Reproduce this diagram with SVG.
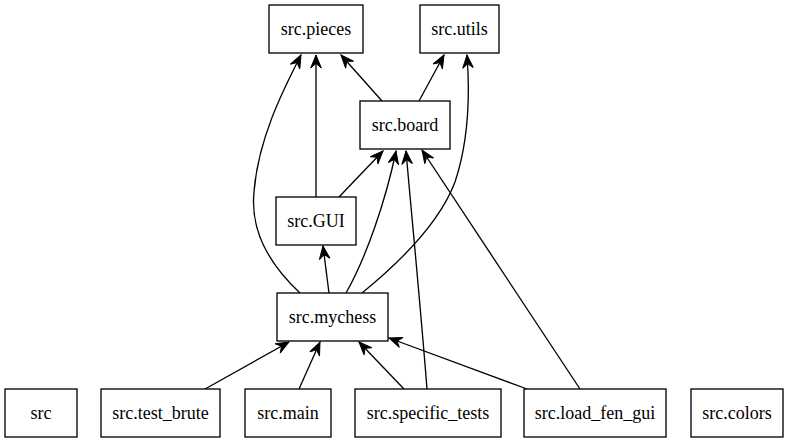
<svg xmlns="http://www.w3.org/2000/svg" width="789" height="443" viewBox="0 0 789 443">
<defs>
<style>
.n rect{fill:#fff;stroke:#000;stroke-width:1.33}
.n text{font-family:'Liberation Serif','Times New Roman','DejaVu Serif',serif;font-size:18px;text-anchor:middle;fill:#000}
.e path{fill:none;stroke:#000;stroke-width:1.33;marker-end:url(#vee)}
</style>
<marker id="vee" markerUnits="userSpaceOnUse" viewBox="-14 -6 15 12" refX="0" refY="0" markerWidth="15" markerHeight="12" orient="auto">
<path d="M0,0 L-13,-5.3 L-8.5,0 L-13,5.3 Z" fill="#000" stroke="#000" stroke-width="1"/>
</marker>
</defs>
<rect width="789" height="443" fill="#fff"/>
<g id="edges" class="e">
<path d="M382,101 L341,55"/>
<path d="M419,101 L444,55"/>
<path d="M316,197 L316,55"/>
<path d="M300,293 C 270,265 250,232 254,192 C 258,140 282,92 301,55"/>
<path d="M362,293 C 400,262 440,222 455,182 C 469,140 470,95 467,55"/>
<path d="M339,197 L383,151"/>
<path d="M346,293 C 366,258 386,200 396,151"/>
<path d="M427,389 C 420,300 412,220 406,151"/>
<path d="M580,389 L422,150"/>
<path d="M329,293 L323,246"/>
<path d="M205,389 L289,342"/>
<path d="M299,389 L320,342"/>
<path d="M404,389 L359,342"/>
<path d="M527,389 L389,338"/>
</g>
<g id="src.pieces" class="n"><rect x="269" y="5" width="94" height="48"/><text x="316" y="34.5">src.pieces</text></g>
<g id="src.utils" class="n"><rect x="420" y="5" width="79" height="48"/><text x="459.5" y="34.5">src.utils</text></g>
<g id="src.board" class="n"><rect x="360" y="101" width="90" height="48"/><text x="405" y="130.5">src.board</text></g>
<g id="src.GUI" class="n"><rect x="276" y="197" width="80" height="48"/><text x="316" y="226.5">src.GUI</text></g>
<g id="src.mychess" class="n"><rect x="277" y="293" width="111" height="48"/><text x="332.5" y="322.5">src.mychess</text></g>
<g id="src" class="n"><rect x="5" y="389" width="72" height="48"/><text x="41" y="418.5">src</text></g>
<g id="src.test_brute" class="n"><rect x="101" y="389" width="119" height="48"/><text x="160.5" y="418.5">src.test_brute</text></g>
<g id="src.main" class="n"><rect x="245" y="389" width="86" height="48"/><text x="288" y="418.5">src.main</text></g>
<g id="src.specific_tests" class="n"><rect x="355" y="389" width="146" height="48"/><text x="428" y="418.5">src.specific_tests</text></g>
<g id="src.load_fen_gui" class="n"><rect x="524" y="389" width="142" height="48"/><text x="595" y="418.5">src.load_fen_gui</text></g>
<g id="src.colors" class="n"><rect x="691" y="389" width="92" height="48"/><text x="737" y="418.5">src.colors</text></g>
</svg>
